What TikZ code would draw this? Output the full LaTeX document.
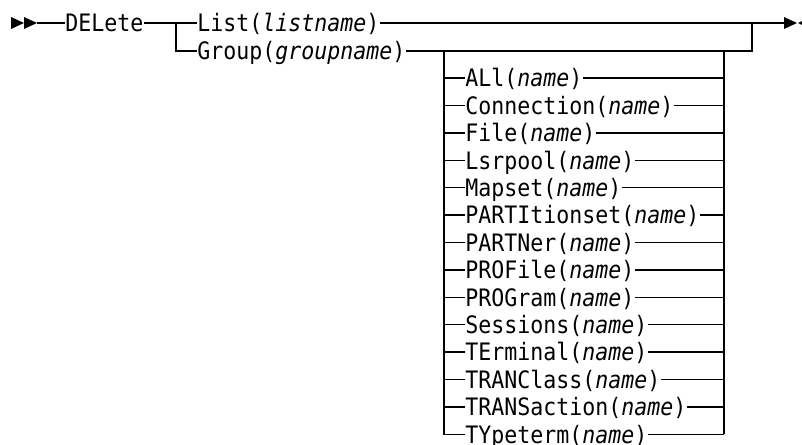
\documentclass[tikz,border=0pt]{standalone}
\usepackage{fontspec}
\usepackage{tikz}
\usetikzlibrary{positioning,calc}
\newfontfamily\railfont[FakeStretch=0.9]{DejaVu Sans Mono}

\begin{document}
\begin{tikzpicture}[x=0.5pt,y=-0.5pt,
  kw/.style={font=\railfont\fontsize{12}{14}\selectfont, inner sep=0pt,
             anchor=west, text height=9.6pt, text depth=0.8pt},
  rail/.style={line width=0.7pt},
  tip/.style={fill=black, draw=none}]
\useasboundingbox (0,0) rectangle (802,444);
% start and end markers
\fill[tip] (11,17) -- (24,23) -- (11,29) -- cycle;
\fill[tip] (24,17) -- (37,23) -- (24,29) -- cycle;
\fill[tip] (784,17) -- (797,23) -- (784,29) -- cycle;
\fill[tip] (810,17) -- (798,23) -- (810,29) -- cycle;
\coordinate (start) at (37,23);
\coordinate (stop) at (784,23);
\coordinate (split) at (176,23);
\coordinate (join) at (752,23);
\coordinate (gin) at (444,51);
\coordinate (gout) at (724,51);
% main line
\node[kw] (delete) at (65,23) {DELete};
\node[kw] (list) at (197,23) {List(\textit{listname})};
\node[kw] (group) at (197,51) {Group(\textit{groupname})};
\draw[rail] (start) -- (delete.west);
\draw[rail] (delete.east) -- (split) -- (list.west);
\draw[rail] (split) |- (group.west);
\draw[rail] (list.east) -- (join) -- (stop);
\draw[rail] (group.east) -- (join |- group) -- (join);
% group keywords
\foreach \kwd [count=\i] in {ALl,Connection,File,Lsrpool,Mapset,PARTItionset,
    PARTNer,PROFile,PROGram,Sessions,TErminal,TRANClass,TRANSaction,TYpeterm}{
  \node[kw] (g\i) at (465,{78+(\i-1)*27.4}) {\kwd(\textit{name})};
  \draw[rail] (gin |- g\i) -- (g\i.west);
  \draw[rail] (g\i.east) -- (gout |- g\i);
}
\draw[rail] (gin) -- (gin |- g14) -- (g14.west);
\draw[rail] (gout) -- (gout |- g14);
\end{tikzpicture}
\end{document}
